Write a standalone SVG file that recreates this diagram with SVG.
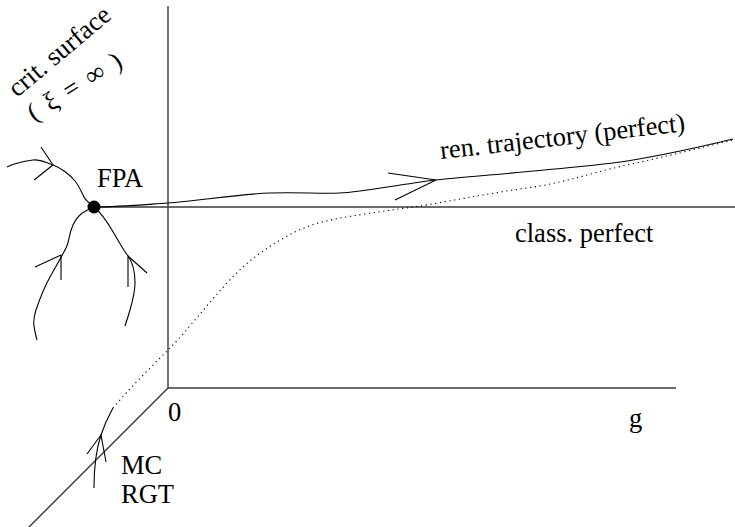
<svg xmlns="http://www.w3.org/2000/svg" width="735" height="527" viewBox="0 0 735 527">
<defs>
<style>
.ax{stroke:#3a3a3a;stroke-width:1.4;fill:none}
.cv{stroke:#000;stroke-width:1.1;fill:none;stroke-linejoin:round}
.dt{stroke:#000;stroke-width:1.1;fill:none;stroke-dasharray:1.2 3.6}
</style>
</defs>
<rect width="735" height="527" fill="#fff"/>
<g id="axes">
<line class="ax" x1="168" y1="6" x2="168" y2="388"/>
<line class="ax" x1="168" y1="388" x2="676" y2="388"/>
<line class="ax" x1="168" y1="388" x2="29" y2="527"/>
<line class="ax" x1="94" y1="207" x2="735" y2="207"/>
</g>
<g id="connectors">
<path class="cv" d="M94,207 C120,207 140,205 168,203 S240,194 270,193 S320,194 340,193 S410,183 436,180 S590,167 627,161 S700,147 733,139"/>
<path class="cv" d="M388,173 L436,180 L395,200"/>
<path class="dt" d="M113,408 C130,388 150,368 168,350 S205,307 227,283 S270,245 293,233 S340,218 365,214 S400,209 420,206 S490,193 527,188 S590,173 627,165 S700,148 733,140"/>
<path class="cv" d="M94,488 C94,470 96,450 101,435 S110,414 113,408"/>
<path class="cv" d="M87,454 L101,435 L106,462"/>
<path class="cv" d="M94,207 C90,203 86,201 84,197 S79,186 75,181 S62,168 53,165 S40,159 33,160 S15,163 7,167"/>
<path class="cv" d="M41,147 L53,165 L34,180"/>
<path class="cv" d="M94,207 C86,210 78,214 73,225 S70,240 66,248 S55,268 50,277 S40,298 36,310 S34,328 37,340"/>
<path class="cv" d="M35,267 L61,255 L61,280"/>
<path class="cv" d="M94,207 C100,212 106,220 112,230 S122,248 128,256 S135,275 135,283 S132,303 130,310 S127,320 125,326"/>
<path class="cv" d="M147,273 L128,256 L128,287"/>
</g>
<g font-family="Times New Roman, Liberation Serif, Tinos, Nimbus Roman, DejaVu Serif, serif" font-size="26.5" fill="#000">
<g id="FPA">
<circle cx="94" cy="207" r="6.5" fill="#000"/>
<text x="97" y="187">FPA</text>
</g>
<g id="crit-surface">
<text transform="translate(17,98) rotate(-40)">crit. surface</text>
<text transform="translate(34,122) rotate(-32)" textLength="106" lengthAdjust="spacing">( ξ = ∞ )</text>
</g>
<g id="ren-trajectory">
<text transform="translate(441,159) rotate(-6.5)">ren. trajectory (perfect)</text>
</g>
<g id="class-perfect">
<text x="515" y="242">class. perfect</text>
</g>
<g id="origin"><text x="168" y="421">0</text></g>
<g id="g-label"><text x="629" y="427">g</text></g>
<g id="MC-RGT">
<text x="121" y="474">MC</text>
<text x="121" y="503">RGT</text>
</g>
</g>
</svg>
